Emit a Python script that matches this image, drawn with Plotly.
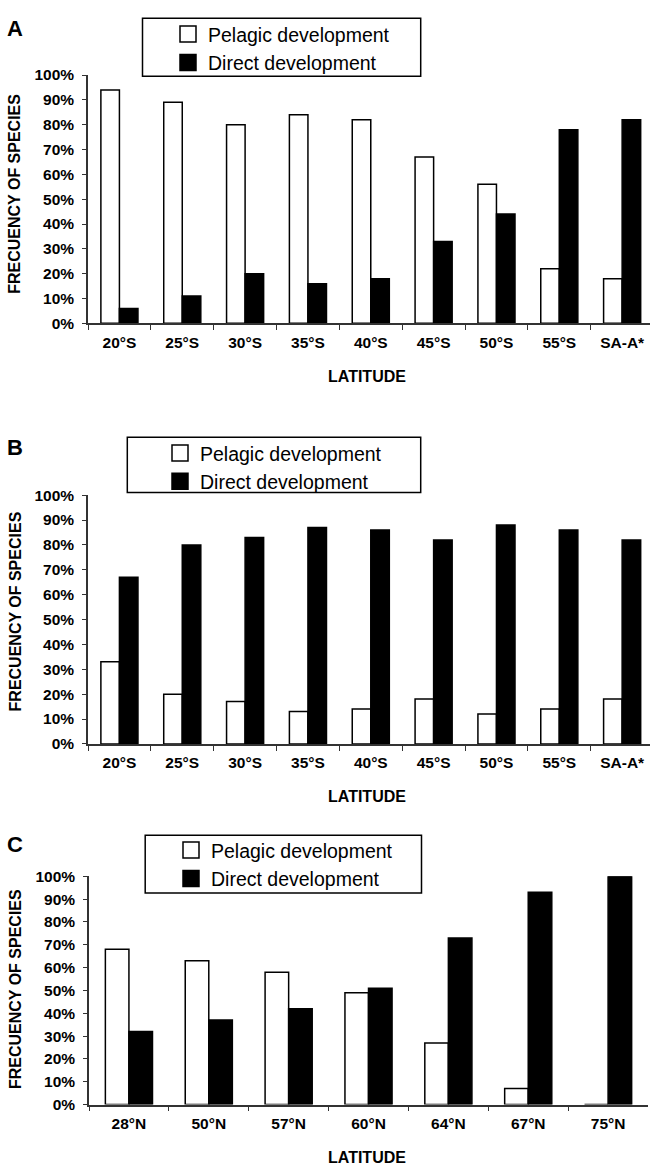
import plotly.graph_objects as go

# ---------------- data ----------------
lat_south = ["20°S", "25°S", "30°S", "35°S", "40°S", "45°S", "50°S", "55°S", "SA-A*"]
a_pelagic = [94, 89, 80, 84, 82, 67, 56, 22, 18]
a_direct = [6, 11, 20, 16, 18, 33, 44, 78, 82]

b_pelagic = [33, 20, 17, 13, 14, 18, 12, 14, 18]
b_direct = [67, 80, 83, 87, 86, 82, 88, 86, 82]

lat_north = ["28°N", "50°N", "57°N", "60°N", "64°N", "67°N", "75°N"]
c_pelagic = [68, 63, 58, 49, 27, 7, 0]
c_direct = [32, 37, 42, 51, 73, 93, 100]

y_ticks = [0, 10, 20, 30, 40, 50, 60, 70, 80, 90, 100]
series_names = ["Pelagic development", "Direct development"]
panel_letters = ["A", "B", "C"]

# ---------------- geometry (pixels) ----------------
W, H = 650, 1172
FONT = "Liberation Sans, Arial, Helvetica, sans-serif"


def py(p):
    return 1 - p / H


def px(p):
    return p / W


panels = [
    dict(x0=88, x1=650, yt=67, yb=319, cw=62.84, cats=lat_south, pel=a_pelagic, dir=a_direct,
         box=(142.5, 420.7, 9.3, 68.3), sym=187, row1=25, letter_y=20, ytitle=187.5),
    dict(x0=88, x1=650, yt=493.3, yb=745.7, cw=62.84, cats=lat_south, pel=b_pelagic, dir=b_direct,
         box=(127.3, 420.7, 434.5, 490.5), sym=179, row1=450, letter_y=445, ytitle=611.3),
    dict(x0=89, x1=648, yt=880, yb=1111.7, cw=79.86, cats=lat_north, pel=c_pelagic, dir=c_direct,
         box=(145.2, 421.5, 838.5, 897), sym=190, row1=853, letter_y=848, ytitle=994.5),
]

fig = go.Figure()
shapes = []
annotations = []
layout_extra = {}

for i, p in enumerate(panels):
    n = i + 1
    xa = "x" if n == 1 else f"x{n}"
    ya = "y" if n == 1 else f"y{n}"
    leg = "legend" if n == 1 else f"legend{n}"

    fig.add_trace(go.Bar(x=p["cats"], y=p["pel"], name=series_names[0], xaxis=xa, yaxis=ya,
                         marker=dict(color="white", line=dict(color="black", width=1.5)),
                         showlegend=False))
    fig.add_trace(go.Bar(x=p["cats"], y=p["dir"], name=series_names[1], xaxis=xa, yaxis=ya,
                         marker=dict(color="black", line=dict(color="black", width=1.5)),
                         showlegend=False))
    # legend entries
    fig.add_trace(go.Scatter(x=[None], y=[None], mode="markers", name=series_names[0],
                             xaxis=xa, yaxis=ya, legend=leg,
                             marker=dict(symbol="square", size=16, color="white",
                                         line=dict(color="black", width=1.5))))
    fig.add_trace(go.Scatter(x=[None], y=[None], mode="markers", name=series_names[1],
                             xaxis=xa, yaxis=ya, legend=leg,
                             marker=dict(symbol="square", size=16, color="black",
                                         line=dict(color="black", width=1.5))))

    span = (p["x1"] - p["x0"]) / p["cw"]
    xkey = "xaxis" if n == 1 else f"xaxis{n}"
    ykey = "yaxis" if n == 1 else f"yaxis{n}"
    layout_extra[xkey] = dict(
        domain=[px(p["x0"]), px(p["x1"])], anchor=ya, type="category",
        range=[-0.5, -0.5 + span], showline=True, linecolor="#333", linewidth=1.5,
        ticks="outside", tickson="boundaries", ticklen=5, tickcolor="#333", tickwidth=1.2,
        showgrid=False, zeroline=False, fixedrange=True,
        tickfont=dict(family=FONT, size=15.5, color="black", weight="bold"),
        ticklabelstandoff=4,
    )
    layout_extra[ykey] = dict(
        domain=[py(p["yb"]), py(p["yt"])], anchor=xa, range=[0, 100],
        tickvals=y_ticks, ticktext=[f"{v}%" for v in y_ticks],
        showline=True, linecolor="#333", linewidth=1.5, ticks="outside", ticklen=4,
        tickcolor="#333", tickwidth=1.2, showgrid=False, zeroline=False, fixedrange=True,
        tickfont=dict(family=FONT, size=15.5, color="black", weight="bold"),
        ticklabelstandoff=5,
    )
    layout_extra[leg] = dict(
        x=px(p["sym"] - 19), xanchor="left", y=py(p["row1"] - 19), yanchor="top",
        bgcolor="rgba(0,0,0,0)", borderwidth=0, tracegroupgap=0,
        font=dict(family=FONT, size=19.5, color="black"), itemsizing="trace",
    )
    bx0, bx1, by0, by1 = p["box"]
    shapes.append(dict(type="rect", xref="paper", yref="paper",
                       x0=px(bx0), x1=px(bx1), y0=py(by1), y1=py(by0),
                       line=dict(color="black", width=1.5), fillcolor="rgba(0,0,0,0)"))
    annotations.append(dict(text=f"<b>{panel_letters[i]}</b>", x=px(15), y=py(p["letter_y"]),
                            xref="paper", yref="paper", showarrow=False, xanchor="center",
                            yanchor="middle", font=dict(family=FONT, size=22, color="black")))
    annotations.append(dict(text="<b>FRECUENCY OF SPECIES</b>", x=px(15), y=py(p["ytitle"]),
                            xref="paper", yref="paper", showarrow=False, textangle=-90,
                            xanchor="center", yanchor="middle",
                            font=dict(family=FONT, size=16, color="black")))
    annotations.append(dict(text="<b>LATITUDE</b>", x=px(367), y=py(p["yb"] + 53.7),
                            xref="paper", yref="paper", showarrow=False, xanchor="center",
                            yanchor="middle", font=dict(family=FONT, size=16, color="black")))

fig.update_layout(
    width=W, height=H, margin=dict(l=0, r=0, t=0, b=0),
    paper_bgcolor="white", plot_bgcolor="white",
    barmode="group", bargap=0.41, bargroupgap=0,
    shapes=shapes, annotations=annotations,
    **layout_extra,
)

fig.write_html(
    "out.html",
    config={"displayModeBar": False},
    post_script="document.body.style.margin='0';document.body.style.padding='0';"
                "document.documentElement.style.overflow='hidden';",
)
